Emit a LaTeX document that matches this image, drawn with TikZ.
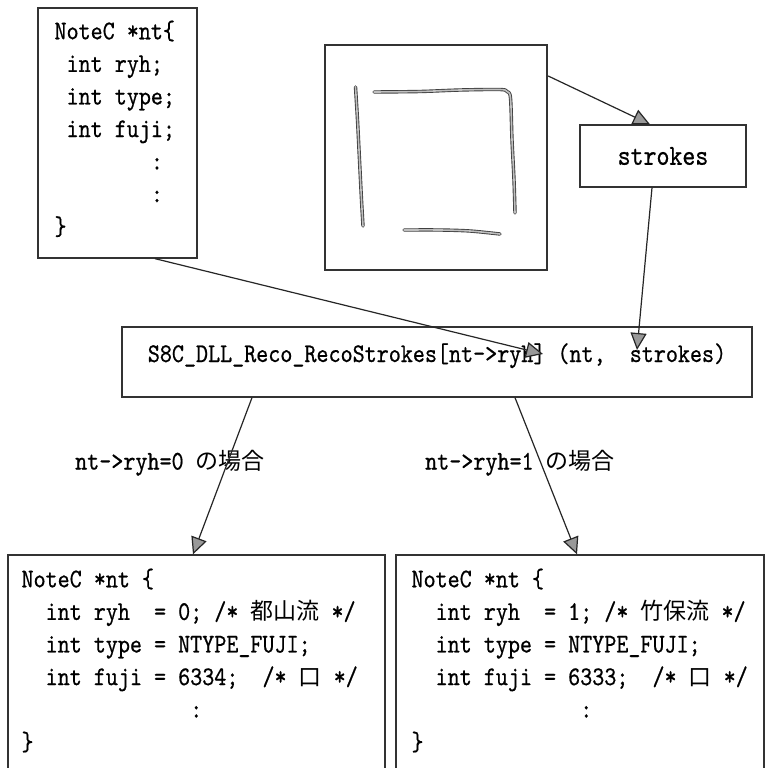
\documentclass[tikz,border=0pt]{standalone}
\usepackage{fontspec}
\setmonofont{lmmono10-regular.otf}[FakeStretch=0.85,FakeBold=0.6]
\newfontfamily\jp{Noto Sans CJK JP}
\usetikzlibrary{arrows.meta}
\begin{document}
\begin{tikzpicture}[x=1pt,y=-1pt,
  box/.style={draw=black!80, line width=1.3pt, inner sep=0pt},
  code/.style={inner sep=0pt, align=left, anchor=north west,
    font=\ttfamily\fontsize{27}{32.6}\selectfont},
  arr/.style={draw=black!85, line width=1.2pt,
    -{Triangle[length=17pt,width=16pt,fill=black!40]}},
  hand/.style={draw=black!75, line width=0.9pt, double=black!25,
    double distance=1.6pt, line cap=round, line join=round},
  lbl/.style={font=\ttfamily\fontsize{27}{30}\selectfont, inner sep=0pt, anchor=west}]
\path[fill=white] (0,0) rectangle (766,768);
\useasboundingbox (0,0) rectangle (766,768);

% top-left struct box
\node[box, minimum width=159pt, minimum height=250pt] (nt) at (117.5,133) {};
\node[code] (ntt) at ([xshift=17pt,yshift=-13pt]nt.north west)
 {NoteC *nt\{\\
  \phantom{x}int ryh;\\
  \phantom{x}int type;\\
  \phantom{x}int fuji;\\
  \phantom{xxxxxxxx}:\\
  \phantom{xxxxxxxx}:\\
  \}};

% handwriting picture box
\node[box, line width=2.4pt, minimum width=222pt, minimum height=225pt] (pic) at (436,157.5) {};
\draw[hand] plot[smooth] coordinates {(355.5,87) (357.5,120) (359.5,160) (361.5,200) (363,226)};
\draw[hand] plot[smooth] coordinates {(374,92) (420,91.5) (460,90) (500,89.5) (507,91.5) (510.5,98) (512,140) (514,180) (515,213)};
\draw[hand] plot[smooth] coordinates {(404,230) (440,230) (470,231) (500,234)};

% strokes box
\node[box, minimum width=166pt, minimum height=62pt,
  font=\ttfamily\fontsize{29}{32}\selectfont] (strokes) at (663,156) {strokes};

% main call box
\node[box, minimum width=630pt, minimum height=70pt, text height=20pt, text depth=20pt,
  font=\ttfamily\fontsize{27}{30}\selectfont] (reco) at (437,362)
  {S8C\_DLL\_Reco\_RecoStrokes[nt->ryh] (nt,\ \ strokes)};

% bottom boxes
\node[box, minimum width=377pt, minimum height=215pt] (bl) at (196.5,662.5) {};
\node[code] (blt) at ([xshift=14pt,yshift=-14pt]bl.north west)
 {NoteC *nt \{\\
  \phantom{xx}int ryh\ \ = 0; /* {\jp\fontsize{23}{30}\selectfont 都山流} */\\
  \phantom{xx}int type = NTYPE\_FUJI;\\
  \phantom{xx}int fuji = 6334;\ \ /* {\jp\fontsize{23}{30}\selectfont 口} */\\
  \phantom{xxxxxxxxxxxxxx}:\\
  \}};
\node[box, minimum width=368pt, minimum height=215pt] (br) at (580,662.5) {};
\node[code] (brt) at ([xshift=16pt,yshift=-14pt]br.north west)
 {NoteC *nt \{\\
  \phantom{xx}int ryh\ \ = 1; /* {\jp\fontsize{23}{30}\selectfont 竹保流} */\\
  \phantom{xx}int type = NTYPE\_FUJI;\\
  \phantom{xx}int fuji = 6333;\ \ /* {\jp\fontsize{23}{30}\selectfont 口} */\\
  \phantom{xxxxxxxxxxxxxx}:\\
  \}};

% labels
\node[lbl] (l0) at (75,463) {nt->ryh=0 {\jp\fontsize{23}{30}\selectfont の場合}};
\node[lbl] (l1) at (425,463) {nt->ryh=1 {\jp\fontsize{23}{30}\selectfont の場合}};

% connectors
\draw[arr] ([xshift=37.5pt]nt.south) -- ([xshift=106pt,yshift=8pt]reco.center);
\draw[arr] ([yshift=81.5pt]pic.east) -- ([xshift=-13pt]strokes.north);
\draw[arr] ([xshift=-11pt]strokes.south) -- ([xshift=200pt,yshift=12pt]reco.center);
\draw[arr] ([xshift=-185pt]reco.south) -- ([xshift=-3.5pt]bl.north);
\draw[arr] ([xshift=78pt]reco.south) -- ([xshift=-3pt]br.north);
\end{tikzpicture}
\end{document}
